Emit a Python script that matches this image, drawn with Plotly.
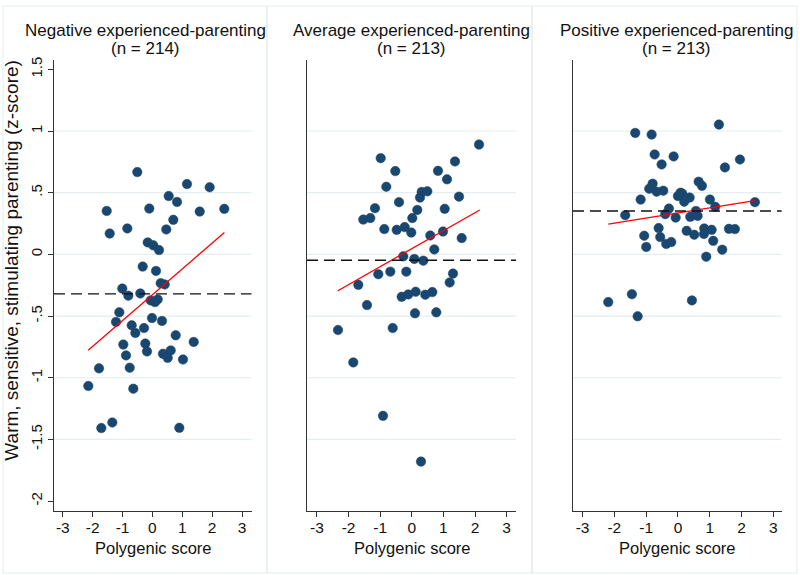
import plotly.graph_objects as go

W, H = 800, 575

# ---------------- data (binned scatter) ----------------
title_line1 = ["Negative experienced-parenting",
               "Average experienced-parenting",
               "Positive experienced-parenting"]
title_line2 = ["(n = 214)", "(n = 213)", "(n = 213)"]

neg_x = [-0.506, 1.158, 1.918, 0.546, 0.824, -1.530, -0.104, 1.584, 2.407, 0.700,
         -1.430, -0.840, 0.465, -0.157, 0.030, 0.221, -0.325, 0.121, 0.278, 0.412,
         -1.008, -0.807, -0.405, -0.057, 0.087, 0.177, -1.108, -1.219, -0.693, -0.281,
         -0.013, 0.321, -0.572, 0.780, 1.383, -0.974, -0.238, -0.181, -0.884, 0.355,
         0.613, 0.512, 1.024, -1.788, -0.760, -2.146, -0.639, -1.711, -1.342, 0.901]
neg_y = [0.667, 0.570, 0.544, 0.473, 0.425, 0.352, 0.371, 0.347, 0.369, 0.280,
         0.169, 0.210, 0.202, 0.097, 0.073, 0.035, -0.099, -0.134, -0.234, -0.244,
         -0.277, -0.335, -0.317, -0.373, -0.387, -0.365, -0.470, -0.548, -0.575, -0.597,
         -0.516, -0.540, -0.637, -0.656, -0.710, -0.731, -0.723, -0.787, -0.819, -0.806,
         -0.779, -0.839, -0.852, -0.924, -0.919, -1.067, -1.089, -1.408, -1.363, -1.406]

avg_x = [2.127, -0.984, 1.367, -0.522, 0.829, 1.114, -0.807, 0.313, 0.491, 0.259,
         1.494, -0.405, -1.165, 0.174, 1.041, -1.535, -1.313, 0.016, -0.870, -0.478,
         -0.225, -0.016, 0.585, 0.987, 1.579, 0.712, -0.269, 0.079, 0.364, -1.060,
         -0.680, -0.174, 1.304, -1.693, 1.199, -0.320, -0.111, 0.123, 0.427, 0.649,
         -1.418, 0.101, 0.775, -2.335, -0.604, -1.851, -0.911, 0.291]
avg_y = [0.890, 0.780, 0.753, 0.675, 0.677, 0.608, 0.548, 0.506, 0.511, 0.460,
         0.468, 0.423, 0.374, 0.360, 0.369, 0.282, 0.294, 0.294, 0.205, 0.199,
         0.221, 0.177, 0.153, 0.185, 0.132, 0.040, -0.016, -0.037, -0.051, -0.161,
         -0.140, -0.140, -0.156, -0.247, -0.228, -0.344, -0.325, -0.303, -0.327, -0.306,
         -0.411, -0.478, -0.470, -0.613, -0.597, -0.876, -1.309, -1.680]

pos_x = [1.289, -1.343, -0.827, -0.733, -0.135, 1.950, -0.513, 1.478, 0.651, 0.755,
         -0.796, -0.903, -0.670, -0.462, 0.085, 0.135, 0.000, 0.368, 0.198, -1.173,
         1.006, 2.421, 1.173, -0.283, 0.566, -0.399, -1.657, -0.072, 0.387, 0.619,
         -0.607, 0.274, 0.827, 1.060, 1.604, 1.792, -1.060, -0.557, 0.513, 0.818,
         -0.368, -0.211, 1.110, -0.997, 1.393, 0.890, -1.447, -2.192, 0.440, -1.267]
pos_y = [1.052, 0.984, 0.971, 0.810, 0.794, 0.769, 0.729, 0.705, 0.589, 0.556,
         0.573, 0.532, 0.508, 0.516, 0.500, 0.492, 0.473, 0.460, 0.427, 0.444,
         0.444, 0.423, 0.385, 0.371, 0.352, 0.326, 0.318, 0.298, 0.304, 0.312,
         0.213, 0.191, 0.210, 0.199, 0.207, 0.205, 0.151, 0.140, 0.159, 0.165,
         0.084, 0.100, 0.110, 0.060, 0.038, -0.019, -0.323, -0.387, -0.373, -0.502]

# fitted lines (end points) and group means
fit_x = [[-2.15, 2.41], [-2.34, 2.15], [-2.19, 2.42]]
fit_y = [[-0.777, 0.177], [-0.295, 0.360], [0.245, 0.435]]
mean_y = [-0.32, -0.048, 0.352]

x_ticks = [-3, -2, -1, 0, 1, 2, 3]
x_ticklabels = ["-3", "-2", "-1", "0", "1", "2", "3"]
y_ticks = [-2, -1.5, -1, -0.5, 0, 0.5, 1, 1.5]
y_ticklabels = ["-2", "-1.5", "-1", "-.5", "0", ".5", "1", "1.5"]
grid_vals = [-1.5, -1, -0.5, 0, 0.5, 1]

xs = [neg_x, avg_x, pos_x]
ys = [neg_y, avg_y, pos_y]

# ---------------- layout geometry (pixels) ----------------
FONT = "Liberation Sans, Arial, Helvetica, sans-serif"
NAVY = "#1a476f"
GRID = "#e4edef"
xdom_px = [(54, 251.5), (307, 516), (573, 781.6)]
xranges = [[-3.295, 3.318], [-3.316, 3.297], [-3.30, 3.26]]
ydom_px = (57, 511)
yrange = [-2.083, 1.578]
panel_px = [(3, 267), (267, 532), (532, 797)]
title_cx = [145, 411.5, 676]


def px2x(p):
    return p / W


def px2y(p):
    return 1 - p / H


fig = go.Figure()

for i in range(3):
    xa = "x" if i == 0 else f"x{i+1}"
    ya = "y" if i == 0 else f"y{i+1}"
    # mean line
    fig.add_shape(type="line", xref=f"{xa} domain", yref=ya, x0=0, x1=1,
                  y0=mean_y[i], y1=mean_y[i],
                  line=dict(color="#111111", width=1.4, dash="11px,6px"), layer="above")
    fig.add_trace(go.Scatter(x=xs[i], y=ys[i], mode="markers", xaxis=xa, yaxis=ya,
                             marker=dict(color=NAVY, size=9.5,
                                         line=dict(color=NAVY, width=0.5)),
                             showlegend=False, hoverinfo="skip"))
    fig.add_trace(go.Scatter(x=fit_x[i], y=fit_y[i], mode="lines", xaxis=xa, yaxis=ya,
                             line=dict(color="#ff0000", width=1.3),
                             showlegend=False, hoverinfo="skip"))
    # grid lines
    for g in grid_vals:
        fig.add_shape(type="line", xref=f"{xa} domain", yref=ya, x0=0, x1=1,
                      y0=g, y1=g, line=dict(color=GRID, width=1.2), layer="below")
    # panel border
    fig.add_shape(type="rect", xref="paper", yref="paper",
                  x0=px2x(panel_px[i][0]), x1=px2x(panel_px[i][1]),
                  y0=px2y(573), y1=px2y(3),
                  line=dict(color="#e3ecee", width=1), layer="below")
    # titles (two lines)
    fig.add_annotation(text=title_line1[i], xref="paper", yref="paper",
                       x=px2x(title_cx[i]), y=px2y(27.5), xanchor="center", yanchor="middle",
                       showarrow=False, font=dict(family=FONT, size=17, color="#111111"))
    fig.add_annotation(text=title_line2[i], xref="paper", yref="paper",
                       x=px2x(title_cx[i]), y=px2y(45.5), xanchor="center", yanchor="middle",
                       showarrow=False, font=dict(family=FONT, size=17, color="#111111"))
    fig.add_annotation(text="Polygenic score", xref="paper", yref="paper",
                       x=px2x((xdom_px[i][0] + xdom_px[i][1]) / 2), y=px2y(548),
                       xanchor="center", yanchor="middle", showarrow=False,
                       font=dict(family=FONT, size=16.5, color="#111111"))

    xaxis = dict(domain=[px2x(xdom_px[i][0]), px2x(xdom_px[i][1])], range=xranges[i],
                 tickmode="array", tickvals=x_ticks, ticktext=x_ticklabels,
                 ticks="outside", ticklen=5, tickwidth=1, tickcolor="#333333",
                 showline=True, linecolor="#333333", linewidth=1.2,
                 showgrid=False, zeroline=False, anchor=ya,
                 ticklabelstandoff=-3,
                 tickfont=dict(family=FONT, size=15.5, color="#111111"))
    yaxis = dict(domain=[px2y(ydom_px[1]), px2y(ydom_px[0])], range=yrange,
                 showline=True, linecolor="#333333", linewidth=1.2,
                 showgrid=False, zeroline=False, anchor=xa)
    if i == 0:
        yaxis.update(tickmode="array", tickvals=y_ticks, ticktext=y_ticklabels,
                     ticks="outside", ticklen=5, tickwidth=1, tickcolor="#333333",
                     tickangle=-90, tickfont=dict(family=FONT, size=15, color="#111111"))
    else:
        yaxis.update(showticklabels=False, ticks="")
    key = "" if i == 0 else str(i + 1)
    fig.layout["xaxis" + key] = xaxis
    fig.layout["yaxis" + key] = yaxis

fig.add_annotation(text="Warm, sensitive, stimulating parenting (z-score)",
                   xref="paper", yref="paper", x=px2x(12), y=px2y(259),
                   xanchor="center", yanchor="middle", textangle=-90, showarrow=False,
                   font=dict(family=FONT, size=19, color="#111111"))

fig.update_layout(width=W, height=H, margin=dict(l=0, r=0, t=0, b=0),
                  paper_bgcolor="white", plot_bgcolor="white")

fig.write_html("out.html", config={"displayModeBar": False},
               post_script="document.body.style.margin='0px';")
